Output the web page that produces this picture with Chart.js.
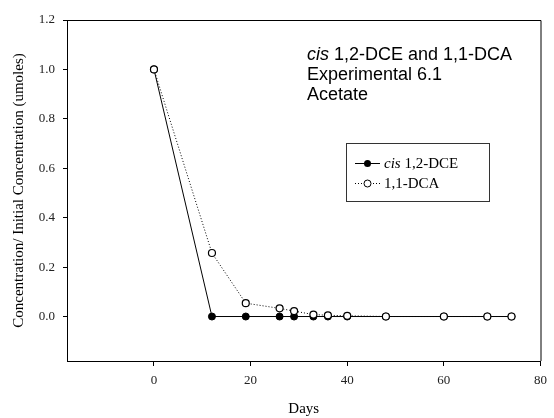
<!DOCTYPE html>
<html>
<head>
<meta charset="utf-8">
<script src="https://cdn.jsdelivr.net/npm/chart.js@4.4.0/dist/chart.umd.min.js"></script>
<style>
  html, body { margin: 0; padding: 0; background: #fff; }
  #wrap { width: 554px; height: 418px; }
</style>
</head>
<body>
<div id="wrap"><canvas id="chart" width="554" height="418"></canvas></div>
<script>
// Data
const days = [0, 12, 19, 26, 29, 33, 36, 40, 48, 60, 69, 74];
const dceValues = [1.0, 0, 0, 0, 0, 0, 0, 0, 0, 0, 0, 0];
const dcaValues = [1.0, 0.257, 0.054, 0.033, 0.022, 0.008, 0.005, 0.003, 0, 0, 0, 0];
const xTicks = [0, 20, 40, 60, 80];
const yTicks = [0.0, 0.2, 0.4, 0.6, 0.8, 1.0, 1.2];
const titleLines = ['1,2-DCE and 1,1-DCA', 'Experimental 6.1', 'Acetate'];
const legendLabels = ['1,2-DCE', '1,1-DCA'];

const serif = '"Liberation Serif", "Times New Roman", serif';
const sans = '"Liberation Sans", Arial, sans-serif';

const ctx = document.getElementById("chart");

// frame, annotation and legend drawn on top
const extras = {
    id: 'extras',
    afterDraw(chart) {
        const c = chart.ctx;
        const a = chart.chartArea;
        c.save();
        // top and right frame lines
        c.strokeStyle = '#000';
        c.lineWidth = 1;
        c.beginPath();
        c.moveTo(a.left, a.top + 0.5);
        c.lineTo(a.right + 0.5, a.top + 0.5);
        c.lineTo(a.right + 0.5, a.bottom);
        c.stroke();

        // annotation text
        c.fillStyle = '#000';
        c.textBaseline = 'alphabetic';
        c.textAlign = 'left';
        let tx = 307;
        c.font = 'italic 18px ' + sans;
        c.fillText('cis', tx, 60);
        const w = c.measureText('cis ').width;
        c.font = '18px ' + sans;
        c.fillText(titleLines[0], tx + w, 60);
        c.fillText(titleLines[1], tx, 80);
        c.fillText(titleLines[2], tx, 100);

        // legend box
        c.strokeStyle = '#333';
        c.strokeRect(346.5, 143.5, 143, 58);
        const rows = [163, 183];
        // cis 1,2-DCE
        c.strokeStyle = '#000';
        c.setLineDash([]);
        c.beginPath();
        c.moveTo(355, rows[0] + 0.5);
        c.lineTo(380, rows[0] + 0.5);
        c.stroke();
        c.beginPath();
        c.arc(367.5, rows[0] + 0.5, 3.5, 0, Math.PI * 2);
        c.fillStyle = '#000';
        c.fill();
        // 1,1-DCA
        c.setLineDash([1, 2]);
        c.beginPath();
        c.moveTo(355, rows[1] + 0.5);
        c.lineTo(380, rows[1] + 0.5);
        c.stroke();
        c.setLineDash([]);
        c.beginPath();
        c.arc(367.5, rows[1] + 0.5, 3.5, 0, Math.PI * 2);
        c.fillStyle = '#fff';
        c.fill();
        c.stroke();

        c.fillStyle = '#000';
        c.textBaseline = 'middle';
        c.font = 'italic 15px ' + serif;
        c.fillText('cis', 384, rows[0] + 1);
        const w2 = c.measureText('cis ').width;
        c.font = '15px ' + serif;
        c.fillText(legendLabels[0], 384 + w2, rows[0] + 1);
        c.fillText(legendLabels[1], 384, rows[1] + 1);
        c.restore();
    }
};

const config = {
    type: 'scatter',
    data: {
        datasets: [{
            label: 'cis 1,2-DCE',
            data: days.map((d, i) => ({x: d, y: dceValues[i]})),
            showLine: true,
            borderColor: '#000',
            borderWidth: 1,
            pointRadius: 3.5,
            pointBackgroundColor: '#000',
            pointBorderColor: '#000',
            pointBorderWidth: 1,
            order: 2
        }, {
            label: '1,1-DCA',
            data: days.map((d, i) => ({x: d, y: dcaValues[i]})),
            showLine: true,
            borderColor: '#000',
            borderWidth: 1,
            borderDash: [1, 2],
            pointRadius: 3.5,
            pointBackgroundColor: '#fff',
            pointBorderColor: '#000',
            pointBorderWidth: 1.2,
            order: 1
        }]
    },
    options: {
        responsive: false,
        animation: false,
        devicePixelRatio: 1,
        layout: { padding: { top: 20, right: 7, left: 0, bottom: 0 } },
        plugins: {
            legend: { display: false },
            tooltip: { enabled: false }
        },
        scales: {
            x: {
                type: 'linear',
                min: -18,
                max: 80,
                afterBuildTicks: s => { s.ticks = xTicks.map(v => ({value: v})); },
                afterFit: s => { s.height = 57; },
                ticks: {
                    color: '#222',
                    font: { family: serif, size: 13 },
                    padding: 7,
                    maxRotation: 0
                },
                grid: { drawOnChartArea: false, tickLength: 5, color: '#000' },
                border: { color: '#000', width: 1 },
                title: {
                    display: true,
                    text: 'Days',
                    color: '#000',
                    font: { family: serif, size: 15 },
                    padding: { top: 0, bottom: 0 }
                }
            },
            y: {
                min: -0.18,
                max: 1.2,
                afterBuildTicks: s => { s.ticks = yTicks.map(v => ({value: v})); },
                afterFit: s => { s.width = 67; },
                ticks: {
                    color: '#222',
                    font: { family: serif, size: 13 },
                    padding: 8,
                    callback: v => v.toFixed(1)
                },
                grid: { drawOnChartArea: false, tickLength: 4, color: '#000' },
                border: { color: '#000', width: 1 },
                title: {
                    display: true,
                    text: 'Concentration/ Initial Concentration (umoles)',
                    color: '#000',
                    font: { family: serif, size: 15 },
                    padding: { top: 10, bottom: 0 }
                }
            }
        }
    },
    plugins: [extras]
};

const expChart = new Chart(ctx, config);
</script>
</body>
</html>
